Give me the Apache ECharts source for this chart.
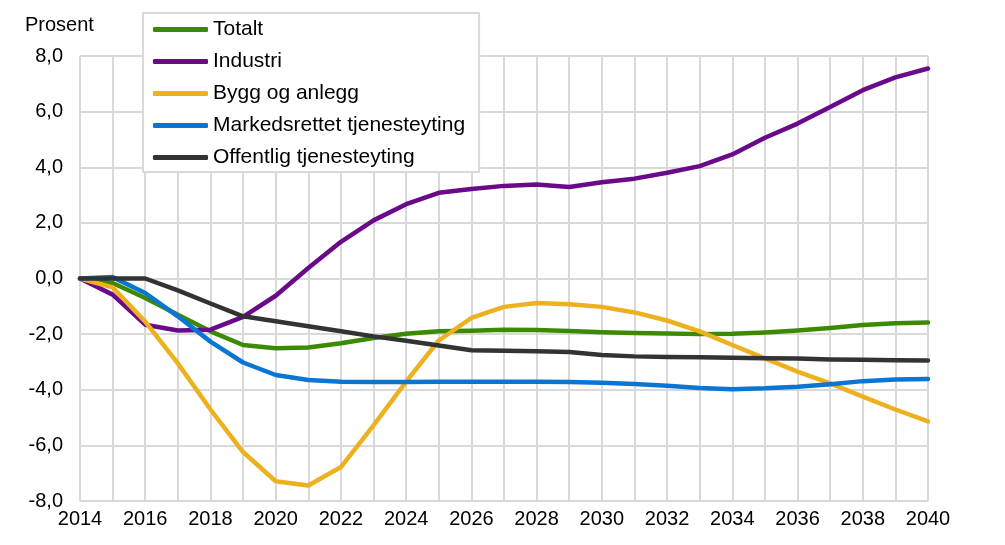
<!DOCTYPE html>
<html>
<head>
<meta charset="utf-8">
<script src="https://cdn.jsdelivr.net/npm/echarts@6/dist/echarts.min.js"></script>
<style>
html,body{margin:0;padding:0;background:#fff;}
#chart{width:1005px;height:545px;}
</style>
</head>
<body>
<div id="chart"></div>
<script>
const years = [2014,2015,2016,2017,2018,2019,2020,2021,2022,2023,2024,2025,2026,2027,2028,2029,2030,2031,2032,2033,2034,2035,2036,2037,2038,2039,2040];
const totalt = [0,-0.16,-0.70,-1.30,-1.90,-2.39,-2.51,-2.48,-2.33,-2.14,-1.99,-1.90,-1.88,-1.84,-1.85,-1.89,-1.93,-1.96,-1.98,-2.00,-1.99,-1.94,-1.87,-1.78,-1.67,-1.61,-1.58];
const industri = [0,-0.58,-1.66,-1.87,-1.84,-1.38,-0.62,0.38,1.32,2.09,2.67,3.08,3.22,3.33,3.38,3.29,3.46,3.59,3.80,4.04,4.46,5.06,5.57,6.17,6.77,7.23,7.55];
const bygg = [0,-0.32,-1.55,-3.05,-4.71,-6.24,-7.29,-7.44,-6.78,-5.28,-3.71,-2.23,-1.42,-1.02,-0.88,-0.93,-1.02,-1.22,-1.51,-1.90,-2.39,-2.87,-3.35,-3.77,-4.25,-4.71,-5.14];
const markedsrettet = [0,0.05,-0.52,-1.36,-2.27,-3.02,-3.47,-3.65,-3.71,-3.72,-3.72,-3.71,-3.71,-3.71,-3.71,-3.72,-3.75,-3.79,-3.86,-3.94,-3.98,-3.95,-3.89,-3.80,-3.69,-3.63,-3.61];
const offentlig = [0,0,0,-0.43,-0.90,-1.36,-1.54,-1.72,-1.90,-2.08,-2.24,-2.41,-2.58,-2.60,-2.62,-2.64,-2.75,-2.80,-2.82,-2.83,-2.85,-2.87,-2.88,-2.91,-2.92,-2.94,-2.95];
const seriesNames = ['Totalt','Industri','Bygg og anlegg','Markedsrettet tjenesteyting','Offentlig tjenesteyting'];
const seriesColors = ['#3C8A00','#6A0A8A','#EDB120','#0A75D2','#333333'];
const seriesData = [totalt, industri, bygg, markedsrettet, offentlig];

const font = 'Liberation Sans, Arial, sans-serif';
const chart = echarts.init(document.getElementById('chart'), null, {renderer:'canvas'});
chart.setOption({
  animation:false,
  backgroundColor:'#fff',
  textStyle:{fontFamily:font},
  title:{text:'Prosent', left:20, top:10, textStyle:{fontSize:20, fontWeight:'normal', color:'#000', fontFamily:font}},
  grid:{left:80, right:77, top:56, bottom:44, containLabel:false},
  legend:{
    orient:'vertical', left:143, top:13,
    padding:[6,14,4,10],
    icon:'roundRect',
    itemWidth:55, itemHeight:5, itemGap:11, itemTextGap:4,
    borderColor:'#d9d9d9', borderWidth:2, backgroundColor:'#fff',
    textStyle:{fontSize:21, lineHeight:21, color:'#000', fontFamily:font},
    data:seriesNames
  },
  xAxis:{
    type:'value', min:2014, max:2040, interval:1,
    axisLine:{show:false}, axisTick:{show:false},
    splitLine:{show:true, lineStyle:{color:'#d9d9d9', width:2}},
    axisLabel:{fontSize:20, color:'#000', margin:8, fontFamily:font,
      formatter:v => (v % 2 === 0 ? String(v) : '')}
  },
  yAxis:{
    type:'value', min:-8, max:8, interval:2,
    axisLine:{show:false}, axisTick:{show:false},
    splitLine:{show:true, lineStyle:{color:'#d9d9d9', width:2}},
    axisLabel:{fontSize:20, color:'#000', margin:17, fontFamily:font,
      formatter:v => v.toFixed(1).replace('.', ',')}
  },
  series: seriesNames.map((n,i) => ({
    name:n, type:'line', symbol:'none', smooth:false,
    data: years.map((y,k) => [y, seriesData[i][k]]),
    lineStyle:{color:seriesColors[i], width:4.5, cap:'round', join:'round'},
    itemStyle:{color:seriesColors[i]},
    z: 2 + i
  }))
});
</script>
</body>
</html>
